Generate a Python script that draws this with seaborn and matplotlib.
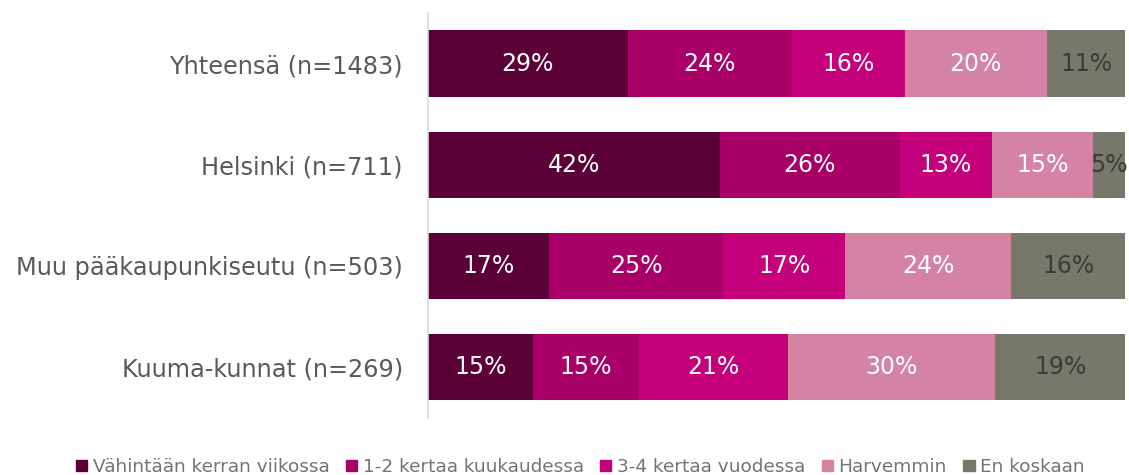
import numpy as np
import pandas as pd
import matplotlib
matplotlib.use('Agg')
import matplotlib.pyplot as plt
import seaborn as sns
from matplotlib.patches import Patch

# data (segment widths in %, labels are rounded)
groups = ['Yhteensä (n=1483)', 'Helsinki (n=711)',
          'Muu pääkaupunkiseutu (n=503)', 'Kuuma-kunnat (n=269)']
series = ['Vähintään kerran viikossa', '1-2 kertaa kuukaudessa',
          '3-4 kertaa vuodessa', 'Harvemmin', 'En koskaan']
viikko = [28.7, 41.9, 17.4, 15.1]
kuukausi = [23.5, 25.8, 25.0, 15.2]
vuosi = [16.2, 13.2, 17.5, 21.4]
harvemmin = [20.4, 14.5, 23.8, 29.7]
ei_koskaan = [11.2, 4.6, 16.3, 18.6]
labels = [[29, 42, 17, 15], [24, 26, 25, 15], [16, 13, 17, 21],
          [20, 15, 24, 30], [11, 5, 16, 19]]

colors = ['#5c0038', '#a80066', '#c4007a', '#d483a3', '#78786a']
text_colors = ['white', 'white', 'white', 'white', '#3a3a3a']

df = pd.DataFrame({'group': groups, series[0]: viikko, series[1]: kuukausi,
                   series[2]: vuosi, series[3]: harvemmin, series[4]: ei_koskaan})

sns.set_theme(style='white')
plt.rcParams['font.family'] = ['DejaVu Sans']

fig = plt.figure(figsize=(11.29, 4.75), dpi=100)
ax = fig.add_axes([0.379, 0.121, 0.6175, 0.851])

# cumulative stacks, plotted from the widest total backwards with seaborn
cum = df[series].cumsum(axis=1)
for i in range(len(series) - 1, -1, -1):
    sns.barplot(x=cum[series[i]], y=df['group'], color=colors[i], orient='h',
                width=0.66, ax=ax, saturation=1, linewidth=0)

for i, s in enumerate(series):
    left = cum[s] - df[s]
    for j in range(len(groups)):
        ax.text(left[j] + df[s][j] / 2, j, f'{labels[i][j]}%', ha='center',
                va='center', color=text_colors[i], fontsize=17)

ax.set_xlim(0, 100)
ax.set_ylim(len(groups) - 0.5, -0.5)
ax.set_xlabel('')
ax.set_ylabel('')
ax.set_xticks([])
ax.tick_params(axis='y', length=0, pad=18, labelsize=17.3, labelcolor='#595959')
for sp in ['top', 'right', 'bottom']:
    ax.spines[sp].set_visible(False)
ax.spines['left'].set_color('#d9d9d9')
ax.spines['left'].set_linewidth(1.2)

handles = [Patch(color=c, label=s) for c, s in zip(colors, series)]
fig.legend(handles=handles, loc='center', bbox_to_anchor=(0.514, 0.017),
           ncol=5, frameon=False, fontsize=13.3, labelcolor='#737373',
           handlelength=0.6, handleheight=0.6, handletextpad=0.3,
           columnspacing=0.9)

fig.savefig('out.png', dpi=100)
